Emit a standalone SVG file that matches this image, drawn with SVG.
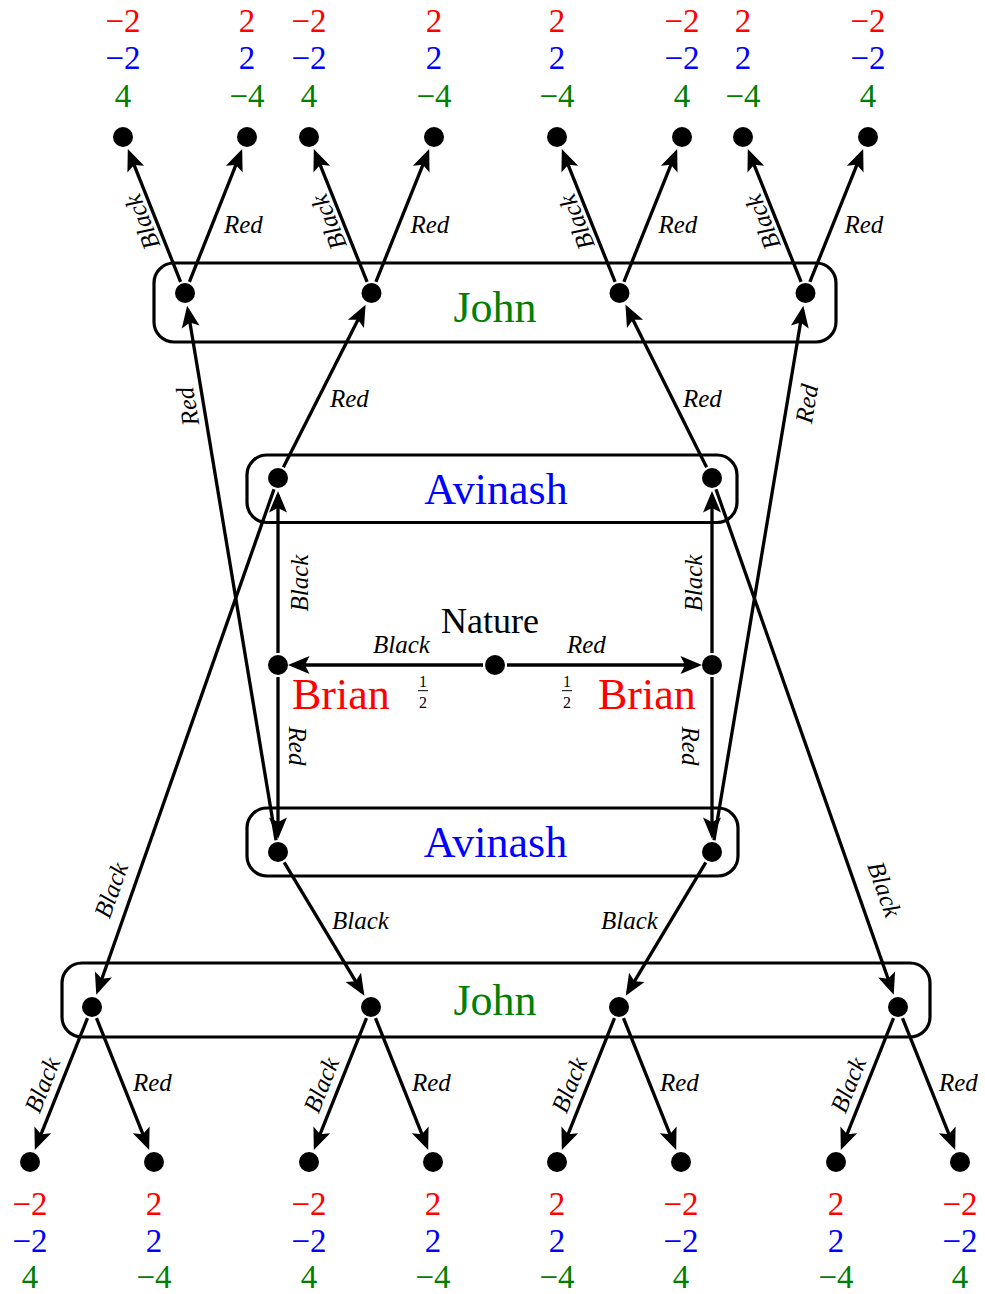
<svg xmlns="http://www.w3.org/2000/svg" width="985" height="1294" viewBox="0 0 985 1294">
<style>
text{font-family:'Liberation Serif','DejaVu Serif',serif}
.bx{fill:none;stroke:#000;stroke-width:3.2}
.e{fill:none;stroke:#000;stroke-width:3.3;marker-end:url(#ah)}
.n{fill:#000}
.lb{font-style:italic;font-size:25px;fill:#000}
.pl{font-size:44px}
.pay{font-size:33px;text-anchor:middle}
.r{fill:#ff0000}.b{fill:#0000ff}.g{fill:#008000}
.fr{font-size:16px;text-anchor:middle;fill:#000}
</style>
<defs>
<marker id="ah" markerUnits="userSpaceOnUse" markerWidth="30" markerHeight="30" refX="0" refY="0" orient="auto" overflow="visible">
<path d="M4,0 L-17.5,-9 L-13,0 L-17.5,9 Z" fill="#000"/>
</marker>
</defs>

<g id="connectors">
<line class="e" x1="483" y1="665" x2="292" y2="665"/>
<line class="e" x1="507" y1="665" x2="698" y2="665"/>
<line class="e" x1="278" y1="653" x2="278" y2="495"/>
<line class="e" x1="278" y1="677" x2="278" y2="835"/>
<line class="e" x1="712" y1="653" x2="712" y2="495"/>
<line class="e" x1="712" y1="677" x2="712" y2="835"/>
<line class="e" x1="283.4" y1="467.3" x2="363.8" y2="308.2"/>
<line class="e" x1="706.6" y1="467.3" x2="627.2" y2="308.2"/>
<line class="e" x1="276" y1="840.2" x2="187.8" y2="309.8"/>
<line class="e" x1="714" y1="840.2" x2="802.7" y2="309.8"/>
<line class="e" x1="274" y1="489.3" x2="97.6" y2="991"/>
<line class="e" x1="716" y1="489.3" x2="892.4" y2="991"/>
<line class="e" x1="284.2" y1="862.3" x2="362.3" y2="992.4"/>
<line class="e" x1="705.8" y1="862.3" x2="627.8" y2="992.4"/>
<line class="e" x1="180.6" y1="281.9" x2="129.3" y2="152.8"/>
<line class="e" x1="189.4" y1="281.9" x2="240.7" y2="152.8"/>
<line class="e" x1="367.1" y1="281.9" x2="315.3" y2="152.8"/>
<line class="e" x1="375.9" y1="281.9" x2="427.7" y2="152.8"/>
<line class="e" x1="615.1" y1="281.9" x2="563.3" y2="152.8"/>
<line class="e" x1="623.9" y1="281.9" x2="675.7" y2="152.8"/>
<line class="e" x1="801.1" y1="281.9" x2="749.3" y2="152.8"/>
<line class="e" x1="809.9" y1="281.9" x2="861.7" y2="152.8"/>
<line class="e" x1="87.5" y1="1018.1" x2="36.3" y2="1146.2"/>
<line class="e" x1="96.5" y1="1018.1" x2="147.7" y2="1146.2"/>
<line class="e" x1="366.5" y1="1018.1" x2="315.3" y2="1146.2"/>
<line class="e" x1="375.5" y1="1018.1" x2="426.7" y2="1146.2"/>
<line class="e" x1="614.5" y1="1018.1" x2="563.3" y2="1146.2"/>
<line class="e" x1="623.5" y1="1018.1" x2="674.7" y2="1146.2"/>
<line class="e" x1="893.5" y1="1018.1" x2="842.3" y2="1146.2"/>
<line class="e" x1="902.5" y1="1018.1" x2="953.7" y2="1146.2"/>

<text class="lb" x="373" y="653">Black</text>
<text class="lb" x="567" y="653">Red</text>
<text class="fr" x="423" y="687">1</text>
<line x1="418" y1="690.7" x2="428" y2="690.7" stroke="#000" stroke-width="1"/>
<text class="fr" x="423" y="708">2</text>
<text class="fr" x="567" y="687">1</text>
<line x1="562" y1="690.7" x2="572" y2="690.7" stroke="#000" stroke-width="1"/>
<text class="fr" x="567" y="708">2</text>

<text class="lb" text-anchor="middle" transform="translate(307.5,583) rotate(-90)">Black</text>
<text class="lb" text-anchor="middle" transform="translate(701.5,583) rotate(-90)">Black</text>
<text class="lb" text-anchor="middle" transform="translate(289,746) rotate(90)">Red</text>
<text class="lb" text-anchor="middle" transform="translate(682,746) rotate(90)">Red</text>

<text class="lb" x="330" y="407">Red</text>
<text class="lb" x="683" y="407">Red</text>
<text class="lb" text-anchor="middle" transform="translate(196,405) rotate(-99.4)">Red</text>
<text class="lb" text-anchor="middle" transform="translate(815,405) rotate(-80.6)">Red</text>
<text class="lb" text-anchor="middle" transform="translate(119,893) rotate(-70.6)">Black</text>
<text class="lb" text-anchor="middle" transform="translate(876.5,892) rotate(70.6)">Black</text>
<text class="lb" x="332" y="929">Black</text>
<text class="lb" x="601" y="929">Black</text>

<text class="lb" text-anchor="middle" transform="translate(150,219) rotate(-111.8)">Black</text>
<text class="lb" text-anchor="middle" transform="translate(336.5,219) rotate(-111.8)">Black</text>
<text class="lb" text-anchor="middle" transform="translate(584.5,219) rotate(-111.8)">Black</text>
<text class="lb" text-anchor="middle" transform="translate(770.5,219) rotate(-111.8)">Black</text>
<text class="lb" x="224" y="233">Red</text>
<text class="lb" x="410.5" y="233">Red</text>
<text class="lb" x="658.5" y="233">Red</text>
<text class="lb" x="844.5" y="233">Red</text>

<text class="lb" text-anchor="middle" transform="translate(50,1088) rotate(-68.2)">Black</text>
<text class="lb" text-anchor="middle" transform="translate(329,1088) rotate(-68.2)">Black</text>
<text class="lb" text-anchor="middle" transform="translate(577,1088) rotate(-68.2)">Black</text>
<text class="lb" text-anchor="middle" transform="translate(856,1088) rotate(-68.2)">Black</text>
<text class="lb" x="133" y="1091">Red</text>
<text class="lb" x="412" y="1091">Red</text>
<text class="lb" x="660" y="1091">Red</text>
<text class="lb" x="939" y="1091">Red</text>
</g>

<g id="john-top">
<rect class="bx" x="154" y="263" width="682" height="79" rx="20"/>
<text class="pl g" x="495" y="322" text-anchor="middle">John</text>
<circle class="n" cx="185" cy="293" r="10"/>
<circle class="n" cx="371.5" cy="293" r="10"/>
<circle class="n" cx="619.5" cy="293" r="10"/>
<circle class="n" cx="805.5" cy="293" r="10"/>
</g>

<g id="avinash-top">
<rect class="bx" x="247" y="455" width="490" height="67.5" rx="20"/>
<text class="pl b" x="496" y="504" text-anchor="middle">Avinash</text>
<circle class="n" cx="278" cy="478" r="10"/>
<circle class="n" cx="712" cy="478" r="10"/>
</g>

<g id="nature">
<circle class="n" cx="495" cy="665" r="10"/>
<text x="490" y="633" text-anchor="middle" font-size="36" fill="#000">Nature</text>
</g>

<g id="brian-left">
<circle class="n" cx="278" cy="665" r="10"/>
<text class="pl r" x="292" y="708.5">Brian</text>
</g>

<g id="brian-right">
<circle class="n" cx="712" cy="665" r="10"/>
<text class="pl r" x="598" y="708.5">Brian</text>
</g>

<g id="avinash-bottom">
<rect class="bx" x="247" y="808" width="491" height="68" rx="20"/>
<text class="pl b" x="495.5" y="857" text-anchor="middle">Avinash</text>
<circle class="n" cx="278" cy="852" r="10"/>
<circle class="n" cx="712" cy="852" r="10"/>
</g>

<g id="john-bottom">
<rect class="bx" x="62" y="963" width="868" height="74" rx="20"/>
<text class="pl g" x="495" y="1015" text-anchor="middle">John</text>
<circle class="n" cx="92" cy="1007" r="10"/>
<circle class="n" cx="371" cy="1007" r="10"/>
<circle class="n" cx="619" cy="1007" r="10"/>
<circle class="n" cx="898" cy="1007" r="10"/>
</g>

<g id="leaves-top">
<circle class="n" cx="123" cy="137" r="10"/>
<circle class="n" cx="247" cy="137" r="10"/>
<circle class="n" cx="309" cy="137" r="10"/>
<circle class="n" cx="434" cy="137" r="10"/>
<circle class="n" cx="557" cy="137" r="10"/>
<circle class="n" cx="682" cy="137" r="10"/>
<circle class="n" cx="743" cy="137" r="10"/>
<circle class="n" cx="868" cy="137" r="10"/>
<text class="pay r" x="123" y="32">−2</text><text class="pay b" x="123" y="69">−2</text><text class="pay g" x="123" y="107">4</text>
<text class="pay r" x="247" y="32">2</text><text class="pay b" x="247" y="69">2</text><text class="pay g" x="247" y="107">−4</text>
<text class="pay r" x="309" y="32">−2</text><text class="pay b" x="309" y="69">−2</text><text class="pay g" x="309" y="107">4</text>
<text class="pay r" x="434" y="32">2</text><text class="pay b" x="434" y="69">2</text><text class="pay g" x="434" y="107">−4</text>
<text class="pay r" x="557" y="32">2</text><text class="pay b" x="557" y="69">2</text><text class="pay g" x="557" y="107">−4</text>
<text class="pay r" x="682" y="32">−2</text><text class="pay b" x="682" y="69">−2</text><text class="pay g" x="682" y="107">4</text>
<text class="pay r" x="743" y="32">2</text><text class="pay b" x="743" y="69">2</text><text class="pay g" x="743" y="107">−4</text>
<text class="pay r" x="868" y="32">−2</text><text class="pay b" x="868" y="69">−2</text><text class="pay g" x="868" y="107">4</text>
</g>

<g id="leaves-bottom">
<circle class="n" cx="30" cy="1162" r="10"/>
<circle class="n" cx="154" cy="1162" r="10"/>
<circle class="n" cx="309" cy="1162" r="10"/>
<circle class="n" cx="433" cy="1162" r="10"/>
<circle class="n" cx="557" cy="1162" r="10"/>
<circle class="n" cx="681" cy="1162" r="10"/>
<circle class="n" cx="836" cy="1162" r="10"/>
<circle class="n" cx="960" cy="1162" r="10"/>
<text class="pay r" x="30" y="1215">−2</text><text class="pay b" x="30" y="1252">−2</text><text class="pay g" x="30" y="1288">4</text>
<text class="pay r" x="154" y="1215">2</text><text class="pay b" x="154" y="1252">2</text><text class="pay g" x="154" y="1288">−4</text>
<text class="pay r" x="309" y="1215">−2</text><text class="pay b" x="309" y="1252">−2</text><text class="pay g" x="309" y="1288">4</text>
<text class="pay r" x="433" y="1215">2</text><text class="pay b" x="433" y="1252">2</text><text class="pay g" x="433" y="1288">−4</text>
<text class="pay r" x="557" y="1215">2</text><text class="pay b" x="557" y="1252">2</text><text class="pay g" x="557" y="1288">−4</text>
<text class="pay r" x="681" y="1215">−2</text><text class="pay b" x="681" y="1252">−2</text><text class="pay g" x="681" y="1288">4</text>
<text class="pay r" x="836" y="1215">2</text><text class="pay b" x="836" y="1252">2</text><text class="pay g" x="836" y="1288">−4</text>
<text class="pay r" x="960" y="1215">−2</text><text class="pay b" x="960" y="1252">−2</text><text class="pay g" x="960" y="1288">4</text>
</g>
</svg>
